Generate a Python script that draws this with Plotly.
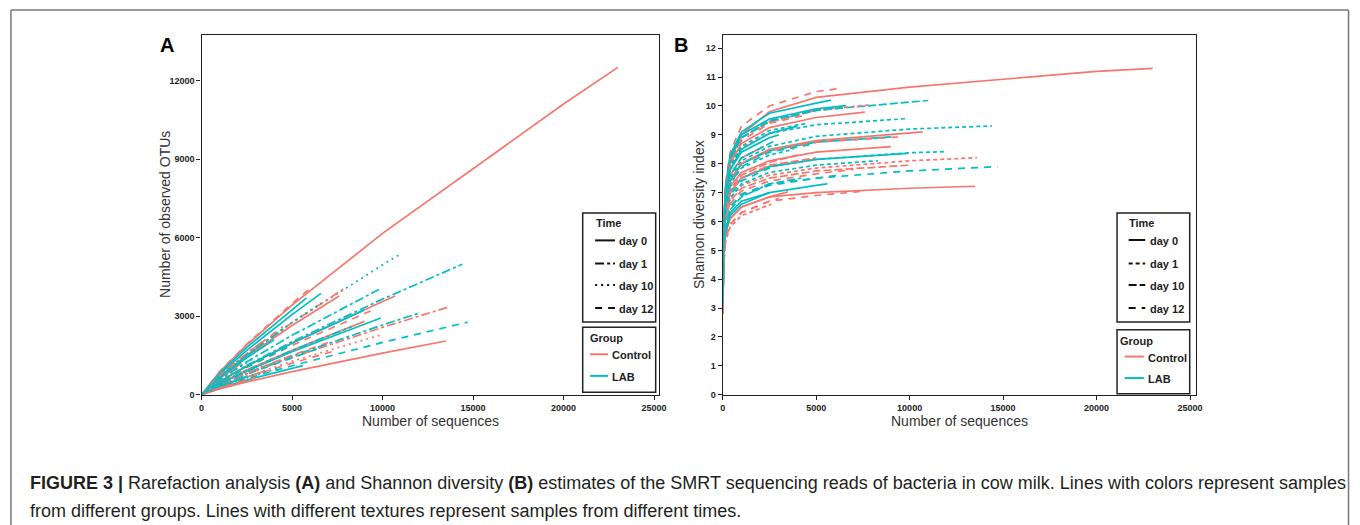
import plotly.graph_objects as go

# ---------------- data ----------------
GROUP = ["Control", "LAB", "LAB", "Control", "Control", "LAB", "Control", "Control", "LAB", "Control",
         "Control", "LAB", "LAB", "LAB", "Control", "LAB", "Control", "LAB", "LAB", "Control",
         "Control", "LAB", "Control", "LAB", "LAB", "Control", "LAB", "Control", "LAB", "Control",
         "LAB", "LAB", "Control", "LAB", "Control", "LAB", "Control", "LAB", "Control", "LAB",
         "Control", "LAB"]
DAY = ["day 0", "day 10", "day 1", "day 0", "day 1", "day 12", "day 0", "day 12", "day 0", "day 1",
       "day 0", "day 1", "day 0", "day 0", "day 0", "day 1", "day 12", "day 12", "day 0", "day 0",
       "day 12", "day 1", "day 12", "day 0", "day 10", "day 10", "day 0", "day 1", "day 1", "day 10",
       "day 12", "day 0", "day 12", "day 10", "day 0", "day 12", "day 10", "day 1", "day 1", "day 10",
       "day 12", "day 0"]
DEPTH = [23000, 11000, 14400, 10700, 13600, 14700, 13500, 6100, 6600, 7900,
         7600, 9800, 9000, 9900, 9000, 12000, 9500, 6400, 5600, 3500,
         7500, 8300, 7000, 5800, 6600, 10000, 3000, 3500, 4500, 4000,
         3200, 2500, 3000, 4200, 2200, 5000, 5000, 3800, 2600, 2800,
         4500, 4000]

OTU_GRID = [0, 1000, 2500, 5000, 10000, 20000]
SHANNON_GRID = [10, 50, 150, 400, 1000, 2500, 5000, 10000, 20000]

OTUS = [
    [0, 870, 1900, 3420, 6160, 11100, 12500],
    [0, 700, 1530, 2750, 4960, 5380],
    [0, 516, 1124, 2026, 3652, 4980],
    [0, 503, 1096, 1975, 3560, 3770],
    [0, 363, 791, 1427, 2572, 3340],
    [0, 282, 615, 1108, 1996, 2770],
    [0, 224, 489, 881, 1588, 2050],
    [0, 886, 1930, 3480, 4120],
    [0, 778, 1696, 3057, 3870],
    [0, 701, 1527, 2752, 4060],
    [0, 673, 1465, 2641, 3770],
    [0, 578, 1259, 2269, 4020],
    [0, 500, 1091, 1966, 3240],
    [0, 417, 909, 1640, 2930],
    [0, 433, 942, 1699, 2800],
    [0, 376, 820, 1478, 2663, 3110],
    [0, 480, 1045, 1883, 3250],
    [0, 361, 787, 1419, 1750],
    [0, 257, 559, 1008, 1110],
    [0, 310, 676, 900],
    [0, 307, 668, 1204, 1700],
    [0, 430, 938, 1690, 2600],
    [0, 383, 834, 1503, 2000],
    [0, 830, 1809, 3262, 3700],
    [0, 704, 1533, 2764, 3500],
    [0, 325, 708, 1276, 2300],
    [0, 688, 1499, 1750],
    [0, 724, 1578, 2100],
    [0, 696, 1517, 2500],
    [0, 431, 939, 1400],
    [0, 409, 892, 1100],
    [0, 321, 700],
    [0, 256, 557, 650],
    [0, 295, 643, 1000],
    [0, 614, 1200],
    [0, 484, 1054, 1900],
    [0, 382, 832, 1500],
    [0, 418, 911, 1300],
    [0, 244, 532, 550],
    [0, 563, 1226, 1350],
    [0, 724, 1578, 2600],
    [0, 646, 1408, 2100],
]

SHANNON = [
    [3.3, 5.5, 7.0, 8.1, 9.0, 9.8, 10.3, 10.65, 11.2, 11.3],
    [3.3, 5.6, 7.1, 8.1, 8.9, 9.45, 9.85, 10.15, 10.19],
    [3.2, 5.3, 6.6, 7.5, 8.1, 8.6, 8.95, 9.2, 9.31],
    [3.1, 5.2, 6.5, 7.4, 8.0, 8.5, 8.8, 9.07, 9.10],
    [3.0, 5.0, 6.1, 6.8, 7.25, 7.6, 7.85, 8.1, 8.21],
    [3.0, 4.9, 5.9, 6.5, 6.95, 7.3, 7.5, 7.75, 7.90],
    [2.9, 4.7, 5.6, 6.1, 6.5, 6.85, 7.0, 7.15, 7.22],
    [3.3, 5.7, 7.3, 8.4, 9.3, 10.0, 10.5, 10.59],
    [3.3, 5.6, 7.1, 8.2, 9.0, 9.55, 9.9, 10.01],
    [3.3, 5.6, 7.1, 8.1, 8.9, 9.45, 9.85, 10.04],
    [3.2, 5.5, 7.0, 8.0, 8.7, 9.25, 9.6, 9.79],
    [3.2, 5.4, 6.9, 7.9, 8.55, 9.05, 9.35, 9.56],
    [3.1, 5.2, 6.5, 7.4, 8.0, 8.45, 8.75, 8.93],
    [3.1, 5.1, 6.3, 7.0, 7.5, 7.9, 8.15, 8.36],
    [3.1, 5.1, 6.4, 7.2, 7.7, 8.1, 8.4, 8.59],
    [3.0, 5.1, 6.3, 7.0, 7.5, 7.9, 8.15, 8.38, 8.42],
    [3.1, 5.2, 6.5, 7.4, 8.0, 8.45, 8.75, 8.93],
    [3.0, 4.9, 5.9, 6.5, 6.9, 7.25, 7.5, 7.62],
    [3.0, 4.8, 5.7, 6.3, 6.7, 7.0, 7.25, 7.30],
    [2.9, 4.7, 5.6, 6.1, 6.5, 6.85, 7.03],
    [2.8, 4.5, 5.4, 5.9, 6.3, 6.7, 6.9, 7.05],
    [3.0, 5.0, 6.1, 6.8, 7.3, 7.7, 7.95, 8.10],
    [3.0, 4.9, 6.0, 6.6, 7.05, 7.4, 7.65, 7.80],
    [3.3, 5.6, 7.2, 8.3, 9.1, 9.75, 10.1, 10.20],
    [3.3, 5.5, 7.0, 8.1, 8.9, 9.5, 9.85, 9.95],
    [3.0, 4.9, 6.0, 6.7, 7.15, 7.5, 7.75, 7.95],
    [3.2, 5.4, 6.9, 7.8, 8.4, 8.9, 9.0],
    [3.2, 5.5, 7.0, 7.9, 8.55, 9.05, 9.2],
    [3.2, 5.5, 7.0, 7.9, 8.6, 9.15, 9.4],
    [3.1, 5.1, 6.3, 7.1, 7.6, 8.05, 8.3],
    [3.0, 5.0, 6.2, 6.9, 7.4, 7.85, 8.0],
    [2.9, 4.7, 5.6, 6.2, 6.6, 7.0],
    [2.8, 4.5, 5.4, 5.9, 6.3, 6.7, 6.8],
    [3.0, 4.8, 5.8, 6.4, 6.85, 7.3, 7.5],
    [3.2, 5.4, 6.8, 7.6, 8.2, 8.6],
    [3.1, 5.2, 6.5, 7.3, 7.9, 8.4, 8.7],
    [3.0, 5.0, 6.2, 7.0, 7.5, 7.95, 8.2],
    [3.1, 5.2, 6.5, 7.3, 7.85, 8.3, 8.5],
    [2.8, 4.4, 5.3, 5.8, 6.2, 6.55, 6.6],
    [3.2, 5.3, 6.7, 7.6, 8.2, 8.7, 8.8],
    [3.3, 5.5, 7.0, 8.0, 8.8, 9.4, 9.7],
    [3.2, 5.4, 6.9, 7.8, 8.5, 9.05, 9.3],
]

TIME_LEVELS = ["day 0", "day 1", "day 10", "day 12"]
GROUP_LEVELS = ["Control", "LAB"]
X_TICKS = [0, 5000, 10000, 15000, 20000, 25000]
OTU_TICKS = [0, 3000, 6000, 9000, 12000]
SHANNON_TICKS = list(range(0, 13))

# ---------------- styles ----------------
COLORS = {"Control": "#F8766D", "LAB": "#00BFC4"}
DASH_A = {"day 0": "solid", "day 1": "9px,3px,3px,3px", "day 10": "2px,4px", "day 12": "7px,6px"}
DASH_B = {"day 0": "solid", "day 1": "4px,3px", "day 10": "8px,3px", "day 12": "7px,6px"}
FONT = "Liberation Sans, Arial, Helvetica, sans-serif"
W, H = 1360, 525


def X(px):
    return px / W


def Y(py):
    return 1 - py / H


fig = go.Figure()

for i in range(len(DEPTH)):
    n = DEPTH[i]
    xa = [d for d in OTU_GRID if d < n] + [n]
    xb = [d for d in SHANNON_GRID if d < n] + [n]
    if len(xa) != len(OTUS[i]) or len(xb) != len(SHANNON[i]):
        raise ValueError(f"length mismatch for sample {i}")
    fig.add_trace(go.Scatter(
        x=xa, y=OTUS[i], mode="lines", xaxis="x", yaxis="y",
        line=dict(color=COLORS[GROUP[i]], width=1.7, dash=DASH_A[DAY[i]]),
        hoverinfo="skip", showlegend=False))
    fig.add_trace(go.Scatter(
        x=xb, y=SHANNON[i], mode="lines", xaxis="x2", yaxis="y2",
        line=dict(color=COLORS[GROUP[i]], width=1.7, dash=DASH_B[DAY[i]]),
        hoverinfo="skip", showlegend=False))

axis_common = dict(showgrid=False, zeroline=False, showline=True, mirror=True,
                   linecolor="#222", linewidth=1.3, ticks="outside", ticklen=4,
                   tickcolor="#222", tickwidth=1,
                   tickfont=dict(family=FONT, size=9, color="#222", weight="bold"))

fig.update_layout(
    width=W, height=H,
    margin=dict(l=0, r=0, t=0, b=0),
    paper_bgcolor="white", plot_bgcolor="white",
    showlegend=False,
    xaxis=dict(domain=[X(200), X(661)], range=[0, 25280], anchor="y",
               tickvals=X_TICKS, tickformat="d", **axis_common),
    yaxis=dict(domain=[Y(398.5), Y(35)], range=[0, 13750], anchor="x",
               tickvals=OTU_TICKS, tickformat="d", **axis_common),
    xaxis2=dict(domain=[X(725), X(1201.5)], range=[0, 25300], anchor="y2",
                tickvals=X_TICKS, tickformat="d", **axis_common),
    yaxis2=dict(domain=[Y(398.5), Y(35)], range=[0, 12.47], anchor="x2",
                tickvals=SHANNON_TICKS, **axis_common),
)

shapes = []
annotations = []

# outer figure frame
frame_line = dict(color="#777", width=1.5)
shapes.append(dict(type="line", xref="paper", yref="paper", x0=X(8), x1=X(8), y0=Y(10), y1=-0.05, line=frame_line))
shapes.append(dict(type="line", xref="paper", yref="paper", x0=X(8), x1=X(1355.5), y0=Y(10), y1=Y(10), line=frame_line))
shapes.append(dict(type="line", xref="paper", yref="paper", x0=X(1355.5), x1=X(1355.5), y0=Y(10), y1=-0.05, line=frame_line))


def text(x, y, s, size, xanchor="left", yanchor="middle", color="#222", angle=0, bold=False):
    annotations.append(dict(xref="paper", yref="paper", x=X(x), y=Y(y), text=s, showarrow=False,
                            xanchor=xanchor, yanchor=yanchor, textangle=angle,
                            font=dict(family=FONT, size=size, color=color,
                                      weight="bold" if bold else "normal")))


# panel letters
text(165, 45, "A", 20, xanchor="center", color="#000", bold=True)
text(683, 45, "B", 20, xanchor="center", color="#000", bold=True)

# axis titles
text(430.5, 425, "Number of sequences", 14, xanchor="center", color="#333")
text(963.3, 425, "Number of sequences", 14, xanchor="center", color="#333")
text(162.5, 216.7, "Number of observed OTUs", 14, xanchor="center", color="#333", angle=-90)
text(700.5, 216.7, "Shannon diversity index", 14, xanchor="center", color="#333", angle=-90)


def legend(box_l, box_r, time_top, time_bot, grp_top, grp_bot, title_x, key_x0, key_x1, lab_x,
           time_ys, grp_title_x, grp_key_x0, grp_key_x1, grp_lab_x, grp_ys, dashes):
    box = dict(color="#222", width=1.5)
    shapes.append(dict(type="rect", xref="paper", yref="paper", x0=X(box_l), x1=X(box_r),
                       y0=Y(time_bot), y1=Y(time_top), line=box, fillcolor="white", layer="above"))
    shapes.append(dict(type="rect", xref="paper", yref="paper", x0=X(box_l), x1=X(box_r),
                       y0=Y(grp_bot), y1=Y(grp_top), line=box, fillcolor="white", layer="above"))
    text(title_x, time_top + 10, "Time", 11, bold=True)
    for lvl, yy in zip(TIME_LEVELS, time_ys):
        shapes.append(dict(type="line", xref="paper", yref="paper", x0=X(key_x0), x1=X(key_x1),
                           y0=Y(yy), y1=Y(yy), line=dict(color="#111", width=2, dash=dashes[lvl]),
                           layer="above"))
        text(lab_x, yy + 1, lvl, 11, bold=True)
    text(grp_title_x, grp_top + 11, "Group", 11, bold=True)
    for lvl, yy in zip(GROUP_LEVELS, grp_ys):
        shapes.append(dict(type="line", xref="paper", yref="paper", x0=X(grp_key_x0), x1=X(grp_key_x1),
                           y0=Y(yy), y1=Y(yy), line=dict(color=COLORS[lvl], width=2), layer="above"))
        text(grp_lab_x, yy + 1, lvl, 11, bold=True)


legend(584, 657.5, 215, 325, 330.5, 396, 595, 596.5, 616.5, 618.5,
       [242.7, 266, 287.7, 311], 589, 591.5, 609.5, 611.7, [357.7, 379.5], DASH_A)
legend(1122.3, 1195.5, 215, 325, 333, 397.5, 1132.7, 1134, 1150.7, 1153.3,
       [242.3, 266, 287.7, 311], 1123.5, 1130, 1149.3, 1151.7, [360, 381.7], DASH_B)

# caption
cap1 = ("<b>FIGURE 3 |</b> Rarefaction analysis <b>(A)</b> and Shannon diversity <b>(B)</b> estimates of the "
        "SMRT sequencing reads of bacteria in cow milk. Lines with colors represent samples")
cap2 = "from different groups. Lines with different textures represent samples from different times."
text(25, 488, cap1, 18, color="#231F20")
text(25, 516, cap2, 18, color="#231F20")

fig.update_layout(shapes=shapes, annotations=annotations)
fig.write_html("out.html", config={"displayModeBar": False})
